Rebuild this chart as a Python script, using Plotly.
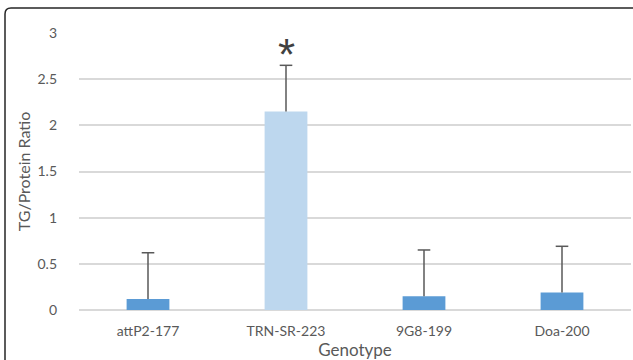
import plotly.graph_objects as go

genotypes = ["attP2-177", "TRN-SR-223", "9G8-199", "Doa-200"]
ratios = [0.12, 2.15, 0.15, 0.19]
errors = [0.50, 0.50, 0.50, 0.50]
bar_colors = ["#5B9BD5", "#BDD7EE", "#5B9BD5", "#5B9BD5"]
y_ticks = [0, 0.5, 1, 1.5, 2, 2.5, 3]
y_tick_text = ["0", "0.5", "1", "1.5", "2", "2.5", "3"]
significant = ["TRN-SR-223"]

W, H = 633, 360
ML, MR, MT, MB = 79, 2, 33, 50
pw, ph = W - ML - MR, H - MT - MB

def px(x):
    return (x - ML) / pw

def py(y):
    return (H - MB - y) / ph

fig = go.Figure()
fig.add_trace(go.Bar(
    x=genotypes, y=ratios,
    marker=dict(color=bar_colors, line=dict(width=0)),
    width=0.31,
))

# upper-only error bars: stem + cap
ex, ey = [], []
for g, r, e in zip(genotypes, ratios, errors):
    ex += [g, g, None]
    ey += [r, r + e, None]
fig.add_trace(go.Scatter(x=ex, y=ey, mode="lines",
                         line=dict(color="#595959", width=1.5), hoverinfo="skip"))
fig.add_trace(go.Scatter(x=genotypes, y=[r + e for r, e in zip(ratios, errors)],
                         mode="markers",
                         marker=dict(symbol="line-ew", size=9,
                                     line=dict(color="#595959", width=1.5)),
                         hoverinfo="skip"))

for g in significant:
    i = genotypes.index(g)
    fig.add_annotation(x=g, y=ratios[i] + errors[i], text="*", showarrow=False,
                       yanchor="bottom", yshift=-16,
                       font=dict(family="Liberation Sans", size=44, color="#404040"))

fig.add_shape(type="path", xref="paper", yref="paper",
              path=f"M {px(5)},{py(365)} L {px(5)},{py(14)} Q {px(5)},{py(8)} {px(11)},{py(8)} L {px(640)},{py(8)}",
              line=dict(color="#262626", width=1.5))

fig.update_layout(
    width=W, height=H,
    margin=dict(l=ML, r=MR, t=MT, b=MB),
    paper_bgcolor="white", plot_bgcolor="white",
    showlegend=False,
    font=dict(family="Lato", size=14, color="#595959"),
    xaxis=dict(title=dict(text="Genotype", font=dict(size=17, color="#595959"), standoff=5),
               showgrid=False, showline=False, zeroline=False, ticks="",
               ticklabelstandoff=11),
    yaxis=dict(title=dict(text="TG/Protein Ratio", font=dict(size=16, color="#595959"), standoff=2),
               range=[0, 3], tickvals=y_ticks, ticktext=y_tick_text,
               gridcolor="#D9D9D9", gridwidth=1.5, zeroline=True, zerolinecolor="#D9D9D9",
               zerolinewidth=1.5, showline=False, ticks="", ticklabelstandoff=21),
)

fig.write_html("out.html")
